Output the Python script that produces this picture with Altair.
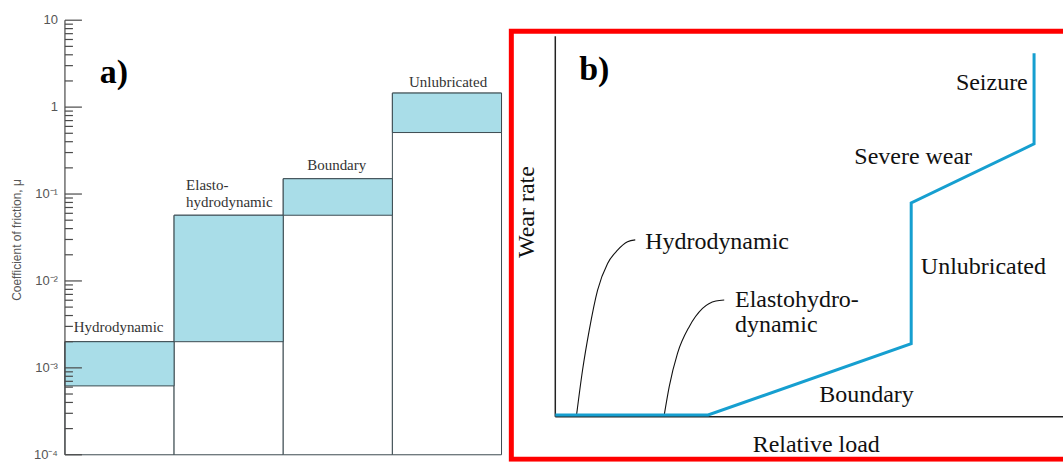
import altair as alt
import pandas as pd

# ---------------- Panel a) : coefficient of friction ----------------
regimes = ["Hydrodynamic", "Elastohydrodynamic", "Boundary", "Unlubricated"]
col_start = [0, 1, 2, 3]
mu_low = [0.00062, 0.002, 0.057, 0.51]
mu_high = [0.002, 0.057, 0.15, 1.45]
mu_floor = 1e-4

a_text = ["Hydrodynamic", "Elasto-", "hydrodynamic", "Boundary", "Unlubricated"]
a_x = [0.08, 1.11, 1.11, 2.49, 3.51]
a_y = [0.00296, 0.127, 0.081, 0.215, 1.94]
a_align = ["left", "left", "left", "center", "center"]

major_ticks = [1e-4, 1e-3, 1e-2, 1e-1, 1, 10]
major_labels = ["10⁻⁴", "10⁻³", "10⁻²", "10⁻¹", "1", "10"]
minor_mult = [2, 3, 4, 5, 6, 7, 8, 9]
minor_decades = [1e-4, 1e-3, 1e-2, 1e-1, 1]
a_ytitle = "Coefficient of friction, μ"

# ---------------- Panel b) : wear rate vs relative load ----------------
wear_x = [0, 30.1, 70.1, 70.1, 94.3, 94.3]
wear_y = [0.5, 0.5, 19.2, 56.2, 71.7, 95.5]
hydro_x = [4.19, 5.37, 6.69, 8.33, 10.30, 12.26, 14.23, 15.75]
hydro_y = [0.5, 12.3, 22.8, 33.3, 40.3, 43.8, 46.0, 46.5]
ehd_x = [21.46, 22.44, 24.07, 26.38, 29.0, 31.63, 33.27]
ehd_y = [0.5, 7.95, 16.7, 23.7, 28.5, 30.45, 30.7]

b_text = ["Hydrodynamic", "Elastohydro-", "dynamic", "Seizure", "Severe wear", "Unlubricated", "Boundary"]
b_x = [17.7, 35.4, 35.4, 78.9, 58.9, 72.0, 52.0]
b_y = [45.9, 30.7, 24.1, 87.7, 68.2, 39.4, 5.8]

# ---------------- tables ----------------
WA, H = 505, 462
XA_MIN, XA_MAX = -0.595, 4.0275
px_per_unit = WA / (XA_MAX - XA_MIN)
major_len = 17 / px_per_unit
minor_len = 8 / px_per_unit

bars = pd.DataFrame({"regime": regimes, "x": col_start,
                     "x2": [c + 1 for c in col_start],
                     "lo": mu_low, "hi": mu_high, "floor": [mu_floor] * 4})
alab = pd.DataFrame({"t": a_text, "x": a_x, "y": a_y, "al": a_align})
majors = pd.DataFrame({"v": major_ticks, "lab": major_labels,
                       "zero": [0.0] * len(major_ticks),
                       "tip": [major_len] * len(major_ticks)})
minor_vals = [m * d for d in minor_decades for m in minor_mult]
minors = pd.DataFrame({"v": minor_vals, "zero": [0.0] * len(minor_vals),
                       "tip": [minor_len] * len(minor_vals)})
axis_a = pd.DataFrame({"x": [0.0], "lo": [major_ticks[0]], "hi": [major_ticks[-1]]})

wear = pd.DataFrame({"x": wear_x, "y": wear_y, "o": list(range(len(wear_x)))})
curves = pd.DataFrame({
    "x": hydro_x + ehd_x,
    "y": hydro_y + ehd_y,
    "c": ["hydro"] * len(hydro_x) + ["ehd"] * len(ehd_x),
    "o": list(range(len(hydro_x))) + list(range(len(ehd_x))),
})
blab = pd.DataFrame({"t": b_text, "x": b_x, "y": b_y})

# ---------------- panel a chart ----------------
xs_a = alt.Scale(domain=[XA_MIN, XA_MAX], nice=False, zero=False)
ys_a = alt.Scale(type="log", domain=[8.305e-5, 16.98], nice=False)

def XA(f):
    return alt.X(f, scale=xs_a, axis=None)

def YA(f):
    return alt.Y(f, scale=ys_a, axis=None)

label_expr = " : ".join(
    f"datum.value < {v * 3} ? '{l}'" for v, l in zip(major_ticks[:-1], major_labels[:-1])
) + f" : '{major_labels[-1]}'"

edge = "#3c4a50"
tick_col = "#4a4a4a"
base_a = alt.Chart(bars)
cols = base_a.mark_rect(fill="white", stroke=edge, strokeWidth=1).encode(
    x=XA("x:Q"), x2="x2:Q",
    y=alt.Y("floor:Q", scale=ys_a,
            axis=alt.Axis(values=major_ticks, labelExpr=label_expr, ticks=False, tickSize=0,
                          domain=False, grid=False, offset=-65, labelPadding=8,
                          labelFont="Liberation Sans", labelFontSize=13, labelColor="#555",
                          title="Coefficient of friction, μ", titleFont="Liberation Sans",
                          titleFontSize=12, titleFontWeight="normal", titleColor="#555",
                          titleX=-48, titleY=240, titleAngle=270,
                          titleAlign="center", titleBaseline="middle")),
    y2="hi:Q")
bands = base_a.mark_rect(fill="#a9dde8", stroke=edge, strokeWidth=1).encode(
    x=XA("x:Q"), x2="x2:Q", y=YA("lo:Q"), y2="hi:Q")
yline = alt.Chart(axis_a).mark_rule(color=tick_col, strokeWidth=1.2).encode(
    x=XA("x:Q"), y=YA("lo:Q"), y2="hi:Q")
tmaj = alt.Chart(majors).mark_rule(color=tick_col, strokeWidth=1.2).encode(
    x=XA("zero:Q"), x2="tip:Q", y=YA("v:Q"))
tmin = alt.Chart(minors).mark_rule(color=tick_col, strokeWidth=1.2).encode(
    x=XA("zero:Q"), x2="tip:Q", y=YA("v:Q"))
ticklabels = alt.Chart(majors).mark_text(
    font="Liberation Sans", fontSize=13, color="#555", align="right", baseline="middle", dx=-7).encode(
    x=XA("zero:Q"), y=YA("v:Q"), text="lab:N")
ytitle_a = alt.Chart(pd.DataFrame({"t": [a_ytitle], "x": [-0.439], "y": [0.0296]})).mark_text(
    font="Liberation Sans", fontSize=12, color="#555", align="center", baseline="middle",
    angle=270).encode(x=XA("x:Q"), y=YA("y:Q"), text="t:N")
txt_a_left = alt.Chart(alab[alab.al == "left"]).mark_text(
    font="Liberation Serif", fontSize=15, color="#333", baseline="middle", align="left").encode(
    x=XA("x:Q"), y=YA("y:Q"), text="t:N")
txt_a_center = alt.Chart(alab[alab.al == "center"]).mark_text(
    font="Liberation Serif", fontSize=15, color="#333", baseline="middle", align="center").encode(
    x=XA("x:Q"), y=YA("y:Q"), text="t:N")
tag_a = alt.Chart(pd.DataFrame({"t": ["a)"], "x": [0.32], "y": [2.46]})).mark_text(
    font="Liberation Serif", fontSize=34, fontWeight="bold", color="black",
    align="left", baseline="middle").encode(x=XA("x:Q"), y=YA("y:Q"), text="t:N")

panel_a = alt.layer(cols, bands, yline, tmaj, tmin, ticklabels, ytitle_a,
                    txt_a_left, txt_a_center, tag_a).properties(width=WA, height=H)

# ---------------- panel b chart ----------------
WB = 1064 - WA
xs_b = alt.Scale(domain=[-10, 100], nice=False, zero=False)
ys_b = alt.Scale(domain=[-11.8, 109.45], nice=False, zero=False)

def XB(f):
    return alt.X(f, scale=xs_b, axis=None)

def YB(f):
    return alt.Y(f, scale=ys_b, axis=None)

frame = alt.Chart(pd.DataFrame({"x": [-8.66], "x2": [106], "y": [-11.15], "y2": [101.3]})).mark_rect(
    fillOpacity=0, stroke="#ff0000", strokeWidth=5, clip=True).encode(
    x=XB("x:Q"), x2="x2:Q", y=YB("y:Q"), y2="y2:Q")
axes_b = alt.Chart(pd.DataFrame({"x": [0, 0], "x2": [0, 100], "y": [0, 0], "y2": [100, 0]})).mark_rule(
    color="#222", strokeWidth=1.5).encode(x=XB("x:Q"), x2="x2:Q", y=YB("y:Q"), y2="y2:Q")
curve_lines = alt.Chart(curves).mark_line(color="#111", strokeWidth=1.1, interpolate="monotone").encode(
    x=XB("x:Q"), y=YB("y:Q"), detail="c:N", order="o:Q")
wear_line = alt.Chart(wear).mark_line(color="#169fd0", strokeWidth=3).encode(
    x=XB("x:Q"), y=YB("y:Q"), order="o:Q")
txt_b = alt.Chart(blab).mark_text(font="Liberation Serif", fontSize=24, color="#111",
                                  align="left", baseline="middle").encode(
    x=XB("x:Q"), y=YB("y:Q"), text="t:N")
xtitle = alt.Chart(pd.DataFrame({"t": ["Relative load"], "x": [51.4], "y": [-7.35]})).mark_text(
    font="Liberation Serif", fontSize=24, color="#111", align="center", baseline="middle").encode(
    x=XB("x:Q"), y=YB("y:Q"), text="t:N")
ytitle = alt.Chart(pd.DataFrame({"t": ["Wear rate"], "x": [-5.5], "y": [53.8]})).mark_text(
    font="Liberation Serif", fontSize=24, color="#111", align="center", baseline="middle",
    angle=270).encode(x=XB("x:Q"), y=YB("y:Q"), text="t:N")
tag_b = alt.Chart(pd.DataFrame({"t": ["b)"], "x": [4.7], "y": [91.1]})).mark_text(
    font="Liberation Serif", fontSize=34, fontWeight="bold", color="black",
    align="left", baseline="middle").encode(x=XB("x:Q"), y=YB("y:Q"), text="t:N")

panel_b = alt.layer(frame, axes_b, curve_lines, wear_line, txt_b, xtitle, ytitle, tag_b).properties(
    width=WB, height=H)

chart = alt.hconcat(panel_a, panel_b, spacing=0).properties(
    padding=0, background="white").configure_view(strokeWidth=0)

chart.save("out.html", embed_options={"renderer": "svg", "actions": False})
